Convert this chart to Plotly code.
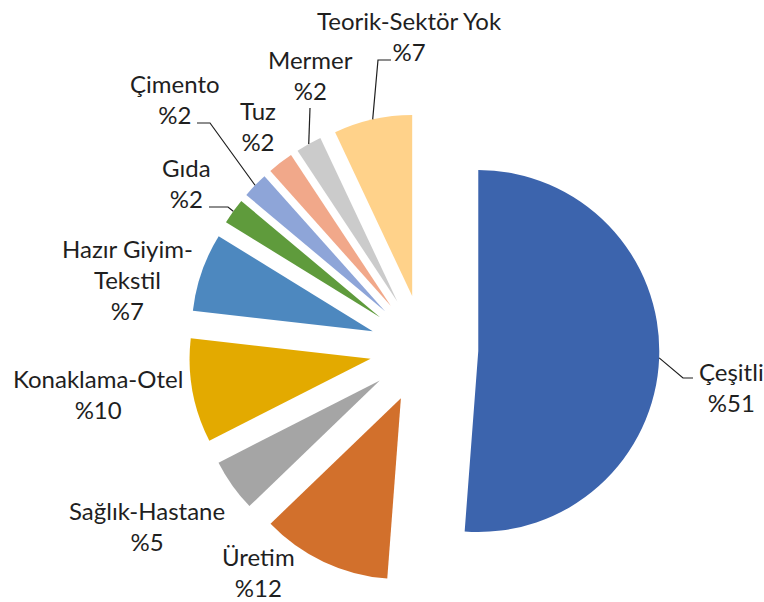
import math
import plotly.graph_objects as go

# ---- data ----
categories = ["Çeşitli", "Üretim", "Sağlık-Hastane", "Konaklama-Otel",
              "Hazır Giyim-Tekstil", "Gıda", "Çimento", "Tuz", "Mermer",
              "Teorik-Sektör Yok"]
values = [51.2, 11.6, 4.7, 9.3, 7.0, 2.3, 2.3, 2.3, 2.3, 7.0]
# percentages as printed on the labels
label_texts = ["Çeşitli<br>%51", "Üretim<br>%12", "Sağlık-Hastane<br>%5",
               "Konaklama-Otel<br>%10", "Hazır Giyim-<br>Tekstil<br>%7",
               "Gıda<br>%2", "Çimento<br>%2", "Tuz<br>%2", "Mermer<br>%2",
               "Teorik-Sektör Yok<br>%7"]

# ---- styles / layout ----
colors = ["#3C64AD", "#D2702C", "#A5A5A5", "#E3AA00", "#4D88BF",
          "#5F9B3C", "#8EA5D8", "#F1A88A", "#CBCBCB", "#FFD28A"]
W, H = 764, 602
PULL = 0.3
dom_x = [0.2470, 0.8630]
dom_y = [0.0294, 0.8111]
FONT = dict(family="Lato, Carlito, Calibri, sans-serif", size=24, color="#1F1F1F")

# label block centers in pixels
label_pos = [(731, 387), (258, 572), (147, 526), (98, 394), (127, 279),
             (186, 183), (175, 99), (258, 126), (310, 75), (409, 36)]
# leader line label-side points (pixels); None = no leader line
leader_pts = [[(683, 378), (693, 378)], None, None, None, None,
              [(228, 207), (209, 207)], [(210, 123), (197, 123)], None,
              [(310, 108)], [(378, 60), (391, 60)]]

fig = go.Figure(go.Pie(
    labels=categories, values=values, sort=False, direction="clockwise",
    rotation=0, pull=[PULL] * len(values), marker=dict(colors=colors),
    textinfo="none", hoverinfo="label", showlegend=False,
    domain=dict(x=dom_x, y=dom_y)))

# geometry (mirrors plotly's pie sizing) for leader-line anchors
cx = (dom_x[0] + dom_x[1]) / 2 * W
cy = H - (dom_y[0] + dom_y[1]) / 2 * H
r = min((dom_x[1] - dom_x[0]) * W, (dom_y[1] - dom_y[0]) * H) / 2 / (1 + PULL)
total = sum(values)

def to_paper(p):
    return p[0] / W, 1 - p[1] / H

annotations = []
shapes = []
cum = 0
for i, v in enumerate(values):
    mid = (cum + v / 2) / total * 2 * math.pi
    cum += v
    ax_ = cx + (1 + PULL) * r * math.sin(mid)
    ay_ = cy - (1 + PULL) * r * math.cos(mid)
    px, py = to_paper(label_pos[i])
    annotations.append(dict(x=px, y=py, xref="paper", yref="paper",
                            text=label_texts[i], showarrow=False,
                            xanchor="center", yanchor="middle", align="center",
                            font=FONT))
    if leader_pts[i]:
        pts = [(ax_, ay_)] + leader_pts[i]
        path = "M " + " L ".join(f"{to_paper(p)[0]:.5f},{to_paper(p)[1]:.5f}" for p in pts)
        shapes.append(dict(type="path", path=path, xref="paper", yref="paper",
                           line=dict(color="#1F1F1F", width=1.2)))

fig.update_layout(width=W, height=H, margin=dict(l=0, r=0, t=0, b=0),
                  paper_bgcolor="white", plot_bgcolor="white",
                  annotations=annotations, shapes=shapes)
fig.write_html("out.html", config={"displayModeBar": False},
               post_script="document.body.style.margin='0';document.body.style.overflow='hidden';")
